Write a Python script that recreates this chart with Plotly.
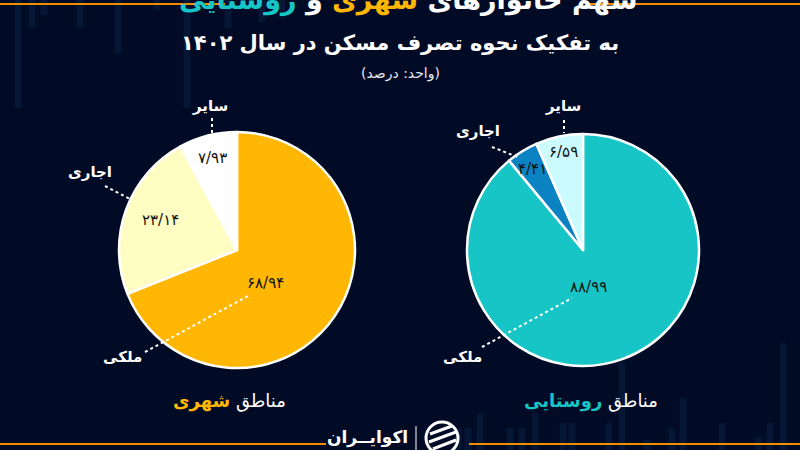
import plotly.graph_objects as go

# ---------------- data ----------------
categories = ["ملکی", "اجاری", "سایر"]
urban_values = [68.94, 23.14, 7.93]
rural_values = [88.99, 4.41, 6.59]
urban_name = "شهری"
rural_name = "روستایی"
title_main = "سهم خانوارهای"
title_line2 = "به تفکیک نحوه تصرف مسکن در سال ۱۴۰۲"
unit_text = "\u200f(واحد: درصد)\u200f"
region_word = "مناطق"
brand = "اکوایــران"

# ---------------- styles ----------------
BG = "#020B26"
ORANGE = "#FFB703"
TEAL = "#17C5C6"
urban_colors = [ORANGE, "#FFFDC2", "#FFFFFF"]
rural_colors = [TEAL, "#0B83C2", "#CBFBFF"]
FONT = "DejaVu Sans"
W, H = 800, 450
BAR_FILL = "rgba(25,70,115,0.22)"

FA = str.maketrans("0123456789.", "۰۱۲۳۴۵۶۷۸۹/")


def fa(v):
    return f"{v:.2f}".translate(FA)


def px(x):
    return x / W


def py(y):
    return 1 - y / H


fig = go.Figure()

# pies (centre / radius in pixels -> domains)
pies = [
    (urban_values, urban_colors, 237, 250, 118),
    (rural_values, rural_colors, 583, 250, 116),
]
for vals, cols, cx, cy, r in pies:
    fig.add_trace(go.Pie(
        labels=categories, values=vals, sort=False, direction="clockwise",
        rotation=0, textinfo="none", hoverinfo="skip", showlegend=False,
        marker=dict(colors=cols, line=dict(color="white", width=2.5)),
        domain=dict(x=[px(cx - r), px(cx + r)], y=[py(cy + r), py(cy - r)]),
    ))

annotations = []
shapes = []

# decorative faint bars (background)
top_bars = [(18, 108), (32, 28), (44, 15), (80, 28), (118, 53), (157, 10),
            (187, 108), (228, 28), (262, 22), (282, 18)]
for x, h in top_bars:
    shapes.append(dict(type="rect", xref="paper", yref="paper", layer="below",
                       x0=px(x - 3.5), x1=px(x + 3.5), y0=py(h), y1=py(0),
                       fillcolor=BAR_FILL, line=dict(width=0)))
bottom_bars = [(458, 428), (468, 428), (480, 413), (510, 428), (522, 428), (535, 413),
               (563, 423), (572, 423), (609, 423), (622, 362), (647, 440),
               (672, 428), (683, 398), (722, 423), (758, 437), (770, 423), (783, 343)]
for x, top in bottom_bars:
    shapes.append(dict(type="rect", xref="paper", yref="paper", layer="below",
                       x0=px(x - 3.5), x1=px(x + 3.5), y0=py(H), y1=py(top),
                       fillcolor=BAR_FILL, line=dict(width=0)))

# orange rules
for x0, x1, y in [(0, 225, 4), (588, 800, 4), (0, 326, 444), (469, 800, 444)]:
    shapes.append(dict(type="line", xref="paper", yref="paper",
                       x0=px(x0), x1=px(x1), y0=py(y), y1=py(y),
                       line=dict(color="#F28C00", width=2)))

# titles
annotations.append(dict(
    x=px(408), y=py(0), xref="paper", yref="paper", showarrow=False,
    text=f"<b>{title_main} <span style='color:{ORANGE}'>{urban_name}</span> و "
         f"<span style='color:{TEAL}'>{rural_name}</span></b>",
    font=dict(family=FONT, size=27, color="white"), xanchor="center", yanchor="middle"))
annotations.append(dict(
    x=px(400), y=py(43), xref="paper", yref="paper", showarrow=False,
    text=f"<b>{title_line2}</b>", font=dict(family=FONT, size=21, color="white"),
    xanchor="center", yanchor="middle"))
annotations.append(dict(
    x=px(400), y=py(73), xref="paper", yref="paper", showarrow=False,
    text=unit_text, font=dict(family=FONT, size=14, color="#E6E8EE"),
    xanchor="center", yanchor="middle"))

# pie labels: category label pos, leader line, value label pos (pixels)
label_layout = [
    # urban
    [((122, 357), (145, 352, 248, 296), (265, 283)),
     ((90, 172), (105, 186, 130, 199), (160, 220)),
     ((210, 106), (212, 118, 212, 133), (212, 158))],
    # rural
    [((462, 357), (482, 347, 572, 298), (588, 287)),
     ((478, 131), (492, 147, 520, 158), (532, 169)),
     ((563, 106), (564, 120, 564, 133), (563, 152))],
]
for vals, lay in zip([urban_values, rural_values], label_layout):
    for cat, v, (lp, ln, vp) in zip(categories, vals, lay):
        annotations.append(dict(
            x=px(lp[0]), y=py(lp[1]), xref="paper", yref="paper", showarrow=False,
            text=f"<b>{cat}</b>", font=dict(family=FONT, size=15, color="white"),
            xanchor="center", yanchor="middle"))
        shapes.append(dict(type="line", xref="paper", yref="paper",
                           x0=px(ln[0]), y0=py(ln[1]), x1=px(ln[2]), y1=py(ln[3]),
                           line=dict(color="white", width=2, dash="dot")))
        annotations.append(dict(
            x=px(vp[0]), y=py(vp[1]), xref="paper", yref="paper", showarrow=False,
            text=fa(v), font=dict(family=FONT, size=15, color="#111111"),
            xanchor="center", yanchor="middle"))

# region labels
annotations.append(dict(
    x=px(230), y=py(401), xref="paper", yref="paper", showarrow=False,
    text=f"{region_word} <b><span style='color:{ORANGE}'>{urban_name}</span></b>",
    font=dict(family=FONT, size=18, color="white"), xanchor="center", yanchor="middle"))
annotations.append(dict(
    x=px(591), y=py(401), xref="paper", yref="paper", showarrow=False,
    text=f"{region_word} <b><span style='color:{TEAL}'>{rural_name}</span></b>",
    font=dict(family=FONT, size=18, color="white"), xanchor="center", yanchor="middle"))

# brand / logo
annotations.append(dict(
    x=px(410), y=py(437), xref="paper", yref="paper", showarrow=False,
    text=f"<b>{brand}</b>", font=dict(family=FONT, size=17, color="white"),
    xanchor="right", yanchor="middle"))
shapes.append(dict(type="line", xref="paper", yref="paper",
                   x0=px(416), x1=px(416), y0=py(426), y1=py(450),
                   line=dict(color="white", width=1)))
# simple logo glyph: ring with diagonal strokes
shapes.append(dict(type="circle", xref="paper", yref="paper",
                   x0=px(426), x1=px(458), y0=py(454), y1=py(422),
                   line=dict(color="white", width=3)))
for (x0, y0, x1, y1) in [(430, 434, 452, 426), (429, 442, 456, 432), (433, 449, 456, 440)]:
    shapes.append(dict(type="line", xref="paper", yref="paper",
                       x0=px(x0), y0=py(y0), x1=px(x1), y1=py(y1),
                       line=dict(color="white", width=3)))

fig.update_layout(
    width=W, height=H, margin=dict(l=0, r=0, t=0, b=0),
    paper_bgcolor=BG, plot_bgcolor=BG,
    annotations=annotations, shapes=shapes, showlegend=False,
)

fig.write_html("out.html")
